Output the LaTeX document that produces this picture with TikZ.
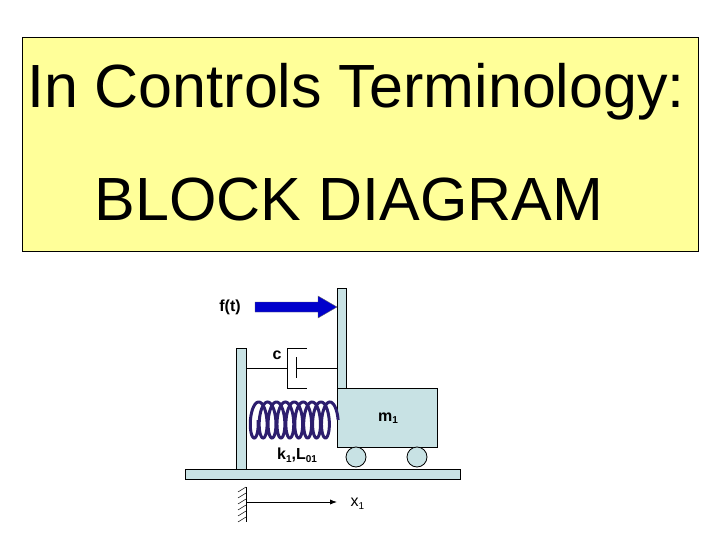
\documentclass[tikz,border=0pt]{standalone}
\usepackage{fontspec}
\setmainfont{Liberation Sans}
\usetikzlibrary{arrows.meta}
\newcommand{\sbs}[1]{\raisebox{-0.3ex}{\fontsize{10}{12}\selectfont #1}}
\begin{document}
\begin{tikzpicture}[x=1pt,y=-1pt,
  part/.style={fill={rgb,255:red,200;green,226;blue,228},draw=black,line width=0.8pt},
  lbl/.style={font=\bfseries\fontsize{16}{18}\selectfont}]
\useasboundingbox (0,0) rectangle (720,540);
\node[draw=black,fill={rgb,255:red,255;green,255;blue,153},minimum width=676pt,minimum height=214pt,anchor=north west,inner sep=0] (box) at (22,37) {};
\node[font=\fontsize{61}{70}\selectfont] (t1) at (356,92) {In Controls Terminology:};
\node[font=\fontsize{61}{70}\selectfont] (t2) at (349,200) {BLOCK DIAGRAM};
% floor and walls
\fill[part] (185,469) rectangle (460,479);
\draw[part] (236,348) rectangle (246,469);
\draw[part] (337,288) rectangle (346,388);
\draw[part] (337,388) rectangle (437,447);
\draw[part] (356,457) circle (10);
\draw[part] (417,457) circle (10);
\draw[black,line width=0.8pt] (185,469) -- (460,469) (185,479) -- (460,479);
% damper
\draw[line width=0.7pt] (246,368) -- (287,368) (287,348) -- (287,388) (287,348) -- (307,348) (287,388) -- (307,388)
  (296,357) -- (296,378) (296,368) -- (337,368);
\node[lbl] (c) at (277,355) {c};
% spring
\draw[line width=3pt,color={rgb,255:red,45;green,30;blue,110},domain=0:9*360,samples=500,smooth,variable=\t]
  plot ({252+\t/360*8.9+6*cos(\t)}, {420+18*sin(\t)});
\node[lbl] (k) at (297,455) {k\sbs{1},L\sbs{01}};
\node[lbl] (m) at (388,418) {m\sbs{1}};
% force
\node[lbl] (f) at (230,307) {f(t)};
\fill[blue!80!black,draw=black!60] (255,302) -- (318,302) -- (318,296) -- (337,307) -- (318,318) -- (318,312) -- (255,312) -- cycle;
% ground and x1
\draw[line width=0.7pt] (246,487) -- (246,522);
\foreach \y in {487,493,...,517} \draw[line width=0.5pt] (246,\y) -- (238,\y+5);
\coordinate (g) at (246,502);
\node[font=\fontsize{16}{18}\selectfont,anchor=west] (x) at (347,504) {x\sbs{1}};
\draw[-{Latex[length=7pt]},line width=1pt] (g) -- (337,502);
\end{tikzpicture}
\end{document}
